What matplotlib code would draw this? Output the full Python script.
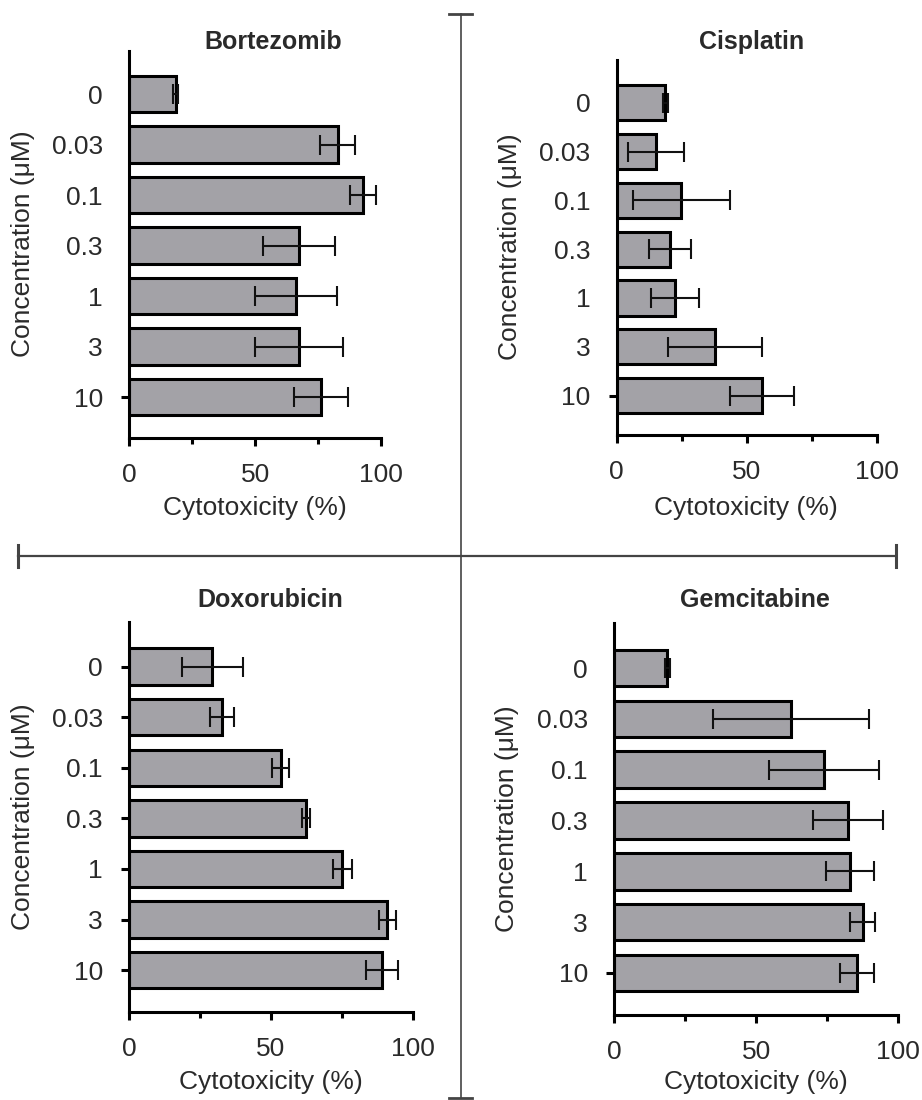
import matplotlib
matplotlib.use("Agg")
import matplotlib.pyplot as plt
from matplotlib.lines import Line2D

plt.rcParams['font.family'] = ['Liberation Sans', 'DejaVu Sans']

# ---------------- data ----------------
concentrations = ["0", "0.03", "0.1", "0.3", "1", "3", "10"]

bortezomib = [18.5, 82.8, 92.7, 67.4, 66.1, 67.4, 76.2]
bortezomib_err = [1.0, 7.0, 5.2, 14.2, 16.3, 17.5, 10.6]

cisplatin = [18.7, 15.1, 24.9, 20.5, 22.4, 37.8, 55.8]
cisplatin_err = [1.0, 10.6, 18.7, 8.1, 9.3, 18.0, 12.4]

doxorubicin = [29.3, 32.6, 53.4, 62.4, 75.2, 91.1, 89.1]
doxorubicin_err = [10.8, 4.3, 3.0, 1.5, 3.3, 3.1, 5.6]

gemcitabine = [18.7, 62.3, 73.9, 82.3, 83.0, 87.4, 85.4]
gemcitabine_err = [1.0, 27.5, 19.3, 12.4, 8.6, 4.5, 6.0]

titles = ["Bortezomib", "Cisplatin", "Doxorubicin", "Gemcitabine"]
x_ticks = [0, 50, 100]
x_minor = [25, 75]
xlabel = "Cytotoxicity (%)"
ylabel = "Concentration (\u03bcM)"

W, H = 922, 1100
fig = plt.figure(figsize=(W / 100, H / 100), dpi=100)

TXT = '#2a2a2a'
BAR = '#a3a2a7'


def px_axes(left, right, top, bottom):
    return fig.add_axes([left / W, 1 - bottom / H, (right - left) / W, (bottom - top) / H])


panels = [
    dict(vals=bortezomib, err=bortezomib_err, title=titles[0],
         box=(129.3, 381, 50.7, 438), ylim=(6.81, -0.86),
         tpos=(273, 42), ylpos=(23, 244), xlpos=(255, 508), alltix=False),
    dict(vals=cisplatin, err=cisplatin_err, title=titles[1],
         box=(616.7, 876.7, 60, 435), ylim=(6.81, -0.88),
         tpos=(752, 42), ylpos=(510, 247), xlpos=(746, 508), alltix=False),
    dict(vals=doxorubicin, err=doxorubicin_err, title=titles[2],
         box=(129.3, 412.7, 622, 1011.7), ylim=(6.82, -0.88),
         tpos=(270, 600), ylpos=(23, 817), xlpos=(271, 1082), alltix=True),
    dict(vals=gemcitabine, err=gemcitabine_err, title=titles[3],
         box=(614.3, 898.3, 623.3, 1015), ylim=(6.83, -0.88),
         tpos=(755, 600), ylpos=(507, 819), xlpos=(756, 1082), alltix=False),
]

for p in panels:
    ax = px_axes(*p['box'])
    ypos = list(range(len(concentrations)))
    ax.barh(ypos, p['vals'], height=0.72, color=BAR, edgecolor='black',
            linewidth=2.2, zorder=2)
    ax.errorbar(p['vals'], ypos, xerr=p['err'], fmt='none', ecolor='#111111',
                elinewidth=1.5, capsize=7.2, capthick=1.5, zorder=3)
    ax.set_xlim(0, 100)
    ax.set_ylim(*p['ylim'])
    ax.set_yticks(ypos)
    ax.set_yticklabels(concentrations)
    ax.set_xticks(x_ticks)
    ax.set_xticklabels([str(t) for t in x_ticks])
    ax.set_xticks(x_minor, minor=True)
    for s in ['top', 'right']:
        ax.spines[s].set_visible(False)
    for s in ['left', 'bottom']:
        ax.spines[s].set_linewidth(2.2)
        ax.spines[s].set_color('black')
    ax.tick_params(axis='y', which='major', length=6, width=2.2, pad=13,
                   labelsize=19, labelcolor=TXT, direction='out')
    ax.tick_params(axis='x', which='major', length=6, width=2.2, pad=12,
                   labelsize=19, labelcolor=TXT, direction='out')
    ax.tick_params(axis='x', which='minor', length=4, width=2.2, direction='out')
    if not p['alltix']:
        for i, t in enumerate(ax.yaxis.get_major_ticks()):
            if i != len(concentrations) - 1:
                t.tick1line.set_visible(False)
    fig.text(p['tpos'][0] / W, 1 - p['tpos'][1] / H, p['title'], ha='center',
             va='center', fontsize=18, fontweight='bold', color=TXT)
    fig.text(p['ylpos'][0] / W, 1 - p['ylpos'][1] / H, ylabel, ha='center',
             va='center', rotation=90, fontsize=19, color=TXT)
    fig.text(p['xlpos'][0] / W, 1 - p['xlpos'][1] / H, xlabel, ha='center',
             va='center', fontsize=19, color=TXT)


def fline(xs, ys, lw, color='#444444'):
    fig.add_artist(Line2D([x / W for x in xs], [1 - y / H for y in ys],
                          transform=fig.transFigure, color=color, linewidth=lw))


# separators
fline([461, 461], [14, 1098], 1.2)
fline([449, 472], [14, 14], 2.0)
fline([449, 472], [1098, 1098], 2.0)
fline([18, 896], [556, 556], 1.6)
fline([18, 18], [545, 567], 2.2)
fline([896, 896], [545, 567], 2.2)

fig.savefig("out.png", dpi=100, facecolor='white')
